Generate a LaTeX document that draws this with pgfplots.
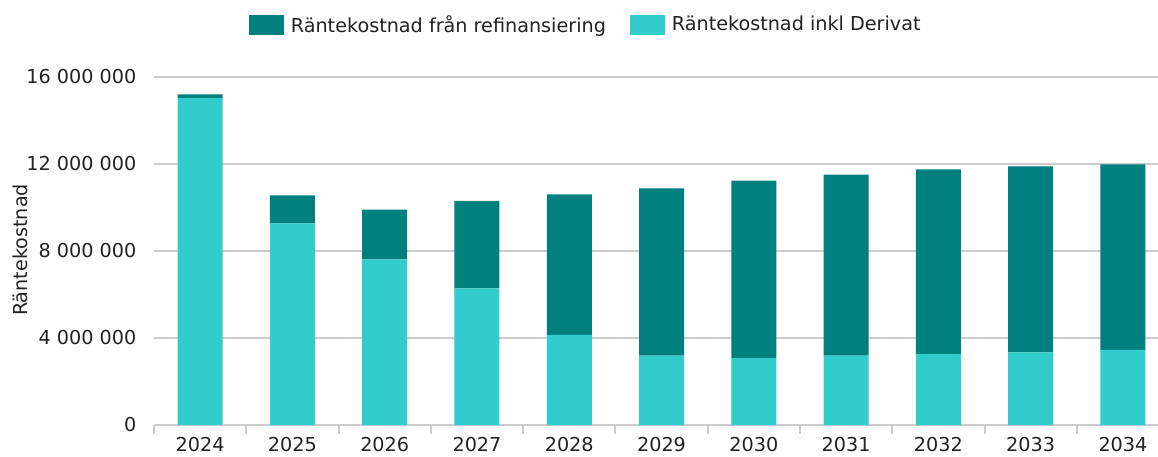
\documentclass[border=0pt]{standalone}
\usepackage{fontspec}
\setmainfont{DejaVu Sans}
\usepackage{pgfplots}
\pgfplotsset{compat=1.18}
\definecolor{darkteal}{HTML}{007F7F}
\definecolor{lightteal}{HTML}{33CCCC}
\definecolor{gridgray}{HTML}{CCCCCC}
\definecolor{txt}{HTML}{222222}
\begin{document}
\begin{tikzpicture}[font=\fontsize{9.6pt}{11pt}\selectfont, text=txt]
\begin{axis}[
  scale only axis,
  width=502pt, height=174pt,
  xmin=-0.5, xmax=10.38,
  ymin=0, ymax=16000000,
  scaled y ticks=false,
  ybar stacked,
  bar width=22.5pt,
  axis x line*=bottom,
  axis y line*=left,
  y axis line style={draw=none},
  x axis line style={draw=gridgray, line width=1pt},
  xtick={0,...,10},
  xticklabels={2024,2025,2026,2027,2028,2029,2030,2031,2032,2033,2034},
  major x tick style={draw=none},
  minor xtick={-0.5,0.5,...,9.5},
  minor x tick style={draw=gridgray, line width=1pt},
  minor tick length=4.5pt,
  tick align=outside,
  xticklabel style={yshift=-0.5pt, inner sep=1pt},
  ytick={0,4000000,8000000,12000000,16000000},
  yticklabels={0,4 000 000,8 000 000,12 000 000,16 000 000},
  ytick style={draw=none},
  yticklabel style={xshift=-1pt},
  ymajorgrids,
  grid style={gridgray, line width=1pt},
  ylabel={Räntekostnad},
  ylabel style={at={(axis description cs:-0.1335,0.503)}, anchor=center, rotate=0},
  legend style={draw=none, at={(axis description cs:0.431,1.149)}, anchor=center,
    legend columns=2, /tikz/every even column/.append style={column sep=10pt},
    /tikz/every odd column/.append style={column sep=1.5pt},
    font=\fontsize{9.6pt}{11pt}\selectfont},
  legend cell align=left,
  legend image code/.code={\fill[#1] (0pt,-5pt) rectangle (17.5pt,5pt);},
  reverse legend,
]
\addplot[fill=lightteal, draw=none] coordinates {
(0,15030000) (1,9270000) (2,7620000) (3,6280000) (4,4140000) (5,3190000)
(6,3070000) (7,3190000) (8,3260000) (9,3340000) (10,3450000)};
\addplot[fill=darkteal, draw=none] coordinates {
(0,170000) (1,1290000) (2,2280000) (3,4030000) (4,6460000) (5,7690000)
(6,8160000) (7,8320000) (8,8490000) (9,8550000) (10,8530000)};
\legend{Räntekostnad inkl Derivat, Räntekostnad från refinansiering}
\coordinate (bl) at (rel axis cs:0,0);
\coordinate (tr) at (rel axis cs:1,1);
\end{axis}
\pgfresetboundingbox
\path[use as bounding box] ([xshift=-77pt,yshift=-15.5pt]bl) rectangle ([yshift=38.5pt]tr);
\end{tikzpicture}
\end{document}
